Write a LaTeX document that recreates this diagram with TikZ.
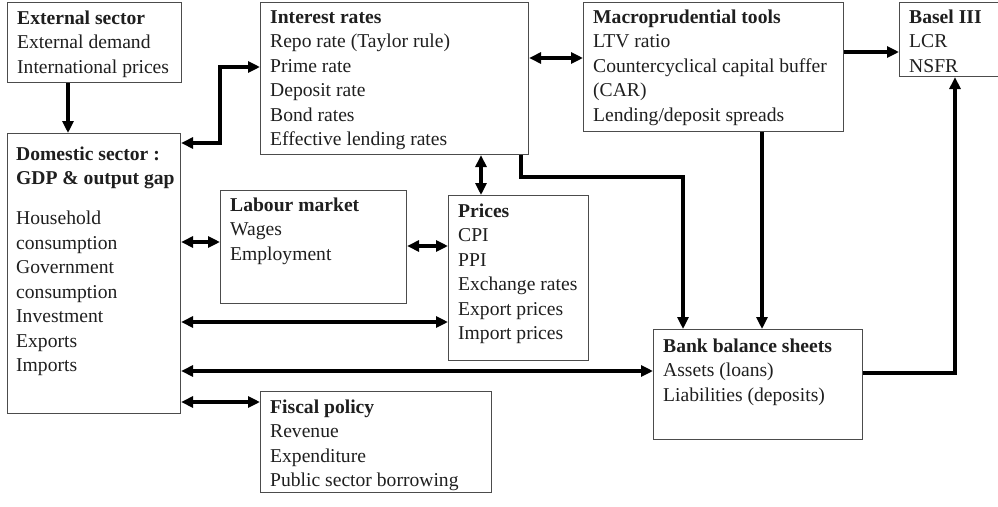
\documentclass[tikz,border=0pt]{standalone}
\usepackage{fontspec}
\setmainfont{Liberation Serif}
\usetikzlibrary{arrows.meta}
\begin{document}
\begin{tikzpicture}[x=1pt,y=-1pt,
  box/.style={draw=black!70,line width=1.1pt,inner sep=0pt,anchor=north west},
  txt/.style={anchor=north west,inner sep=0pt,align=left,text=black!88,
    font=\fontsize{19.6}{24.5}\selectfont},
  arr/.style={line width=3.2pt,-{Triangle[length=12pt,width=11pt]}},
  darr/.style={line width=3.2pt,{Triangle[length=12pt,width=11pt]}-{Triangle[length=12pt,width=11pt]}}]
\useasboundingbox[fill=white] (0,0) rectangle (998,506);
% boxes
\node[box,minimum width=174pt,minimum height=80pt] (ext) at (7,2) {};
\node[box,minimum width=173pt,minimum height=280pt] (dom) at (7,133) {};
\node[box,minimum width=268pt,minimum height=152pt] (int) at (260,2) {};
\node[box,minimum width=260pt,minimum height=129pt] (mac) at (583,2) {};
\node[box,minimum width=120pt,minimum height=74pt] (bas) at (899,2) {};
\node[box,minimum width=186pt,minimum height=113pt] (lab) at (220,190) {};
\node[box,minimum width=140pt,minimum height=165pt] (pri) at (448,195) {};
\node[box,minimum width=209pt,minimum height=110pt] (bnk) at (653,329) {};
\node[box,minimum width=231pt,minimum height=101pt] (fis) at (260,391) {};
% texts
\node[txt] (ext-t) at ([shift={(10,6)}]ext.north west) {\rule{0pt}{16pt}\textbf{External sector}\\External demand\\International prices};
\node[txt] (dom-t) at ([shift={(9,11)}]dom.north west) {\rule{0pt}{16pt}\textbf{Domestic sector :}\\\textbf{GDP \& output gap}\\[15.5pt]Household\\consumption\\Government\\consumption\\Investment\\Exports\\Imports};
\node[txt] (int-t) at ([shift={(10,5)}]int.north west) {\rule{0pt}{16pt}\textbf{Interest rates}\\Repo rate (Taylor rule)\\Prime rate\\Deposit rate\\Bond rates\\Effective lending rates};
\node[txt] (mac-t) at ([shift={(10,5)}]mac.north west) {\rule{0pt}{16pt}\textbf{Macroprudential tools}\\LTV ratio\\Countercyclical capital buffer\\(CAR)\\Lending/deposit spreads};
\node[txt] (bas-t) at ([shift={(10,5)}]bas.north west) {\rule{0pt}{16pt}\textbf{Basel III}\\LCR\\NSFR};
\node[txt] (lab-t) at ([shift={(10,5)}]lab.north west) {\rule{0pt}{16pt}\textbf{Labour market}\\Wages\\Employment};
\node[txt] (pri-t) at ([shift={(10,6)}]pri.north west) {\rule{0pt}{16pt}\textbf{Prices}\\CPI\\PPI\\Exchange rates\\Export prices\\Import prices};
\node[txt] (bnk-t) at ([shift={(10,7)}]bnk.north west) {\rule{0pt}{16pt}\textbf{Bank balance sheets}\\Assets (loans)\\Liabilities (deposits)};
\node[txt] (fis-t) at ([shift={(10,6)}]fis.north west) {\rule{0pt}{16pt}\textbf{Fiscal policy}\\Revenue\\Expenditure\\Public sector borrowing};
% connectors
\draw[arr] (68,0 |- ext.south) -- (68,0 |- dom.north);
\draw[darr] (dom.east |- 0,143) -- (220,143) -- (220,67) -- (int.west |- 0,67);
\draw[darr] (dom.east |- 0,242) -- (lab.west |- 0,242);
\draw[darr] (lab.east |- 0,246) -- (pri.west |- 0,246);
\draw[darr] (dom.east |- 0,322) -- (pri.west |- 0,322);
\draw[darr] (dom.east |- 0,371) -- (bnk.west |- 0,371);
\draw[darr] (dom.east |- 0,402) -- (fis.west |- 0,402);
\draw[darr] (481,0 |- int.south) -- (481,0 |- pri.north);
\draw[darr] (int.east |- 0,58) -- (mac.west |- 0,58);
\draw[arr] (mac.east |- 0,52) -- (bas.west |- 0,52);
\draw[arr] (521,0 |- int.south) -- (521,177) -- (683,177) -- (683,0 |- bnk.north);
\draw[arr] (762,0 |- mac.south) -- (762,0 |- bnk.north);
\draw[arr] (bnk.east |- 0,373) -- (955,373) -- (955,0 |- bas.south);
\end{tikzpicture}
\end{document}
